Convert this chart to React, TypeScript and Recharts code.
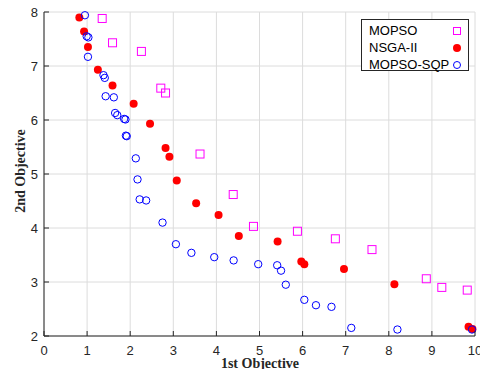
import { ScatterChart, Scatter, XAxis, YAxis, CartesianGrid, Legend } from 'recharts';

interface Pt {
  x: number;
  y: number;
}

// MOPSO front (hollow magenta squares)
const MOPSO_X = [1.35, 1.59, 2.26, 2.71, 2.82, 3.62, 4.39, 4.86, 5.88, 6.76, 7.61, 8.87, 9.23, 9.82];
const MOPSO_Y = [7.88, 7.43, 7.27, 6.59, 6.5, 5.37, 4.62, 4.03, 3.94, 3.8, 3.6, 3.06, 2.9, 2.85];

// NSGA-II front (filled red dots)
const NSGA_X = [0.82, 0.93, 1.02, 1.25, 1.59, 2.08, 2.46, 2.82, 2.91, 3.08, 3.53, 4.05, 4.52, 5.42, 5.97, 6.04, 6.96, 8.13, 9.85, 9.94];
const NSGA_Y = [7.9, 7.64, 7.35, 6.93, 6.64, 6.3, 5.93, 5.48, 5.32, 4.88, 4.46, 4.24, 3.85, 3.75, 3.38, 3.33, 3.24, 2.96, 2.17, 2.13];

// MOPSO-SQP front (hollow blue circles)
const SQP_X = [0.95, 0.99, 1.03, 1.02, 1.38, 1.41, 1.43, 1.62, 1.65, 1.7, 1.86, 1.89, 1.9, 1.92, 2.13, 2.17, 2.22, 2.37, 2.75, 3.06, 3.42, 3.95, 4.4, 4.97, 5.41, 5.5, 5.61, 6.04, 6.31, 6.67, 7.13, 8.2, 9.93];
const SQP_Y = [7.94, 7.55, 7.53, 7.17, 6.83, 6.78, 6.44, 6.42, 6.13, 6.09, 6.02, 6.01, 5.71, 5.7, 5.29, 4.9, 4.53, 4.51, 4.1, 3.7, 3.54, 3.46, 3.4, 3.33, 3.31, 3.21, 2.95, 2.67, 2.57, 2.54, 2.15, 2.12, 2.12];

const X_TICKS = [0, 1, 2, 3, 4, 5, 6, 7, 8, 9, 10];
const Y_TICKS = [2, 3, 4, 5, 6, 7, 8];

const zip = (xs: number[], ys: number[]): Pt[] => xs.map((x, i) => ({ x, y: ys[i] }));

const mopso = zip(MOPSO_X, MOPSO_Y);
const nsga = zip(NSGA_X, NSGA_Y);
const sqp = zip(SQP_X, SQP_Y);

const AXIS = '#262626';
const FONT = '"Liberation Sans", Arial, sans-serif';
const SERIF = '"Liberation Serif", "Times New Roman", serif';
const MAGENTA = '#ff00ff';
const RED = '#ff0000';
const BLUE = '#0000ff';

const Square = ({ cx, cy }: any) => (
  <rect x={cx - 4} y={cy - 4} width={8} height={8} fill="none" stroke={MAGENTA} strokeWidth={1} />
);
const Dot = ({ cx, cy }: any) => <circle cx={cx} cy={cy} r={4} fill={RED} />;
const Ring = ({ cx, cy }: any) => <circle cx={cx} cy={cy} r={3.7} fill="none" stroke={BLUE} strokeWidth={1} />;

function BottomTick({ x, y, payload }: any) {
  return (
    <g>
      <line x1={x} x2={x} y1={y} y2={y - 5} stroke={AXIS} />
      <text x={x} y={y + 18.5} textAnchor="middle" fontSize={13} fill={AXIS} fontFamily={FONT}>
        {payload.value}
      </text>
    </g>
  );
}

function LeftTick({ x, y, payload }: any) {
  return (
    <g>
      <line x1={x} x2={x + 5} y1={y} y2={y} stroke={AXIS} />
      <text x={x - 6} y={y + 4.5} textAnchor="end" fontSize={13} fill={AXIS} fontFamily={FONT}>
        {payload.value}
      </text>
    </g>
  );
}

const TopTick = ({ x, y }: any) => <line x1={x} x2={x} y1={y} y2={y + 5} stroke={AXIS} />;
const RightTick = ({ x, y }: any) => <line x1={x} x2={x - 5} y1={y} y2={y} stroke={AXIS} />;

function LegendBox() {
  const rows = [
    { name: 'MOPSO', icon: <rect x={3.5} y={3.5} width={7} height={7} fill="none" stroke={MAGENTA} /> },
    { name: 'NSGA-II', icon: <circle cx={7} cy={7} r={4} fill={RED} /> },
    { name: 'MOPSO-SQP', icon: <circle cx={7} cy={7} r={3.5} fill="none" stroke={BLUE} /> },
  ];
  return (
    <div
      style={{
        position: 'relative',
        border: '1px solid #262626',
        background: '#fff',
        width: 108,
        height: 52,
        boxSizing: 'border-box',
        padding: '2px 0 0 7px',
        fontFamily: FONT,
        fontSize: 13,
        lineHeight: '17px',
        color: '#000',
        whiteSpace: 'nowrap',
      }}
    >
      {rows.map((r) => (
        <div key={r.name} style={{ position: 'relative', height: 17 }}>
          <span>{r.name}</span>
          <svg width={14} height={14} style={{ position: 'absolute', left: 81, top: 1.5 }}>
            {r.icon}
          </svg>
        </div>
      ))}
    </div>
  );
}

export default function App() {
  return (
    <div style={{ position: 'absolute', left: 0, top: 0, width: 480, height: 369, background: '#fff' }}>
      <ScatterChart width={480} height={369} margin={{ top: 12, right: 5, bottom: 0, left: 0 }}>
        <CartesianGrid
          stroke="#dcdcdc"
          strokeWidth={1}
          verticalValues={X_TICKS}
          horizontalValues={Y_TICKS}
        />
        <XAxis
          type="number"
          dataKey="x"
          domain={[0, 10]}
          ticks={X_TICKS}
          height={33}
          axisLine={{ stroke: AXIS }}
          tickLine={false}
          tickSize={0}
          tickMargin={0}
          tick={<BottomTick />}
          interval={0}
        />
        <XAxis
          xAxisId="top"
          orientation="top"
          type="number"
          dataKey="x"
          domain={[0, 10]}
          ticks={X_TICKS}
          height={0}
          axisLine={{ stroke: AXIS }}
          tickLine={false}
          tickSize={0}
          tickMargin={0}
          tick={<TopTick />}
          interval={0}
        />
        <YAxis
          type="number"
          dataKey="y"
          domain={[2, 8]}
          ticks={Y_TICKS}
          width={44}
          axisLine={{ stroke: AXIS }}
          tickLine={false}
          tickSize={0}
          tickMargin={0}
          tick={<LeftTick />}
          interval={0}
        />
        <YAxis
          yAxisId="right"
          orientation="right"
          type="number"
          dataKey="y"
          domain={[2, 8]}
          ticks={Y_TICKS}
          width={0}
          axisLine={{ stroke: AXIS }}
          tickLine={false}
          tickSize={0}
          tickMargin={0}
          tick={<RightTick />}
          interval={0}
        />
        <Scatter name="MOPSO" data={mopso} shape={<Square />} isAnimationActive={false} />
        <Scatter name="NSGA-II" data={nsga} shape={<Dot />} isAnimationActive={false} />
        <Scatter name="MOPSO-SQP" data={sqp} shape={<Ring />} isAnimationActive={false} />
        <Legend
          content={<LegendBox />}
          layout="horizontal"
          verticalAlign="middle"
          align="center"
          wrapperStyle={{ top: 19, left: 361, right: 'auto', bottom: 'auto', width: 108, height: 52 }}
        />
        <text x={260} y={368} textAnchor="middle" fontFamily={SERIF} fontWeight="bold" fontSize={14} fill={AXIS}>
          1st Objective
        </text>
        <text
          x={25}
          y={171}
          transform="rotate(-90 25 171)"
          textAnchor="middle"
          fontFamily={SERIF}
          fontWeight="bold"
          fontSize={14}
          fill={AXIS}
        >
          2nd Objective
        </text>
      </ScatterChart>
    </div>
  );
}
